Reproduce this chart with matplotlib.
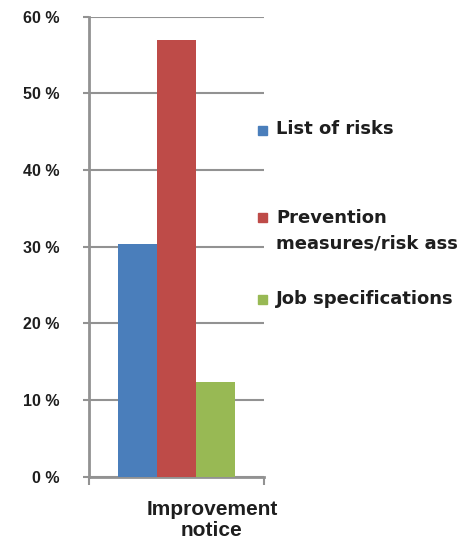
import numpy as np
import matplotlib
matplotlib.use('Agg')
import matplotlib.pyplot as plt
from matplotlib.patches import Rectangle
from matplotlib.ticker import FuncFormatter

# share of notices per category (%)
category = 'Improvement\nnotice'
series = ['List of risks', 'Prevention\nmeasures/risk ass', 'Job specifications']
values = [30.4, 57.0, 12.4]
colors = ['#4A7EBB', '#BE4B48', '#98B954']
yticks = [0, 10, 20, 30, 40, 50, 60]

W, H = 464, 542
grey = '#929292'

fig = plt.figure(figsize=(W / 100, H / 100), dpi=100)
ax = fig.add_axes([89 / W, 1 - 476.7 / H, (264 - 89) / W, (476.7 - 16.7) / H])

bw = 0.221
xpos = (np.arange(len(values)) - 1) * bw
ax.bar(xpos, values, width=bw, color=colors, zorder=3)

ax.set_xlim(-0.5, 0.5)
ax.set_ylim(0, 60)
ax.set_yticks(yticks)
ax.yaxis.set_major_formatter(FuncFormatter(lambda v, p: '%d %%' % v))
ax.set_xticks([-0.5, 0.5])
ax.set_xticklabels([])
ax.grid(axis='y', color=grey, lw=1.5)
ax.set_axisbelow(True)

for s in ['top', 'right']:
    ax.spines[s].set_visible(False)
for s in ['left', 'bottom']:
    ax.spines[s].set_color(grey)
    ax.spines[s].set_linewidth(2)

ax.tick_params(axis='y', direction='out', length=4.5, width=1.5, color=grey, pad=17)
ax.tick_params(axis='x', direction='out', length=5.5, width=1.5, color=grey)
for lab in ax.get_yticklabels():
    lab.set_fontfamily('Liberation Sans')
    lab.set_fontweight('bold')
    lab.set_fontsize(11.5)
    lab.set_color('#1e1e1e')

fig.text(212 / W, 1 - 520 / H, category, ha='center', va='center',
         fontsize=15, fontweight='bold', family='Liberation Sans',
         color='#1e1e1e', linespacing=1.1)

# legend, square swatch beside first line of each label
leg_y = [130, 218, 299]
for lab, col, yc in zip(series, colors, leg_y):
    fig.add_artist(Rectangle((258 / W, 1 - (yc + 4.5) / H), 9 / W, 9 / H,
                             transform=fig.transFigure, color=col))
    fig.text(276 / W, 1 - (yc - 9.5) / H, lab, ha='left', va='top',
             fontsize=13, fontweight='bold', family='DejaVu Sans',
             color='#1e1e1e', linespacing=1.55)

fig.savefig('out.png', dpi=100)
